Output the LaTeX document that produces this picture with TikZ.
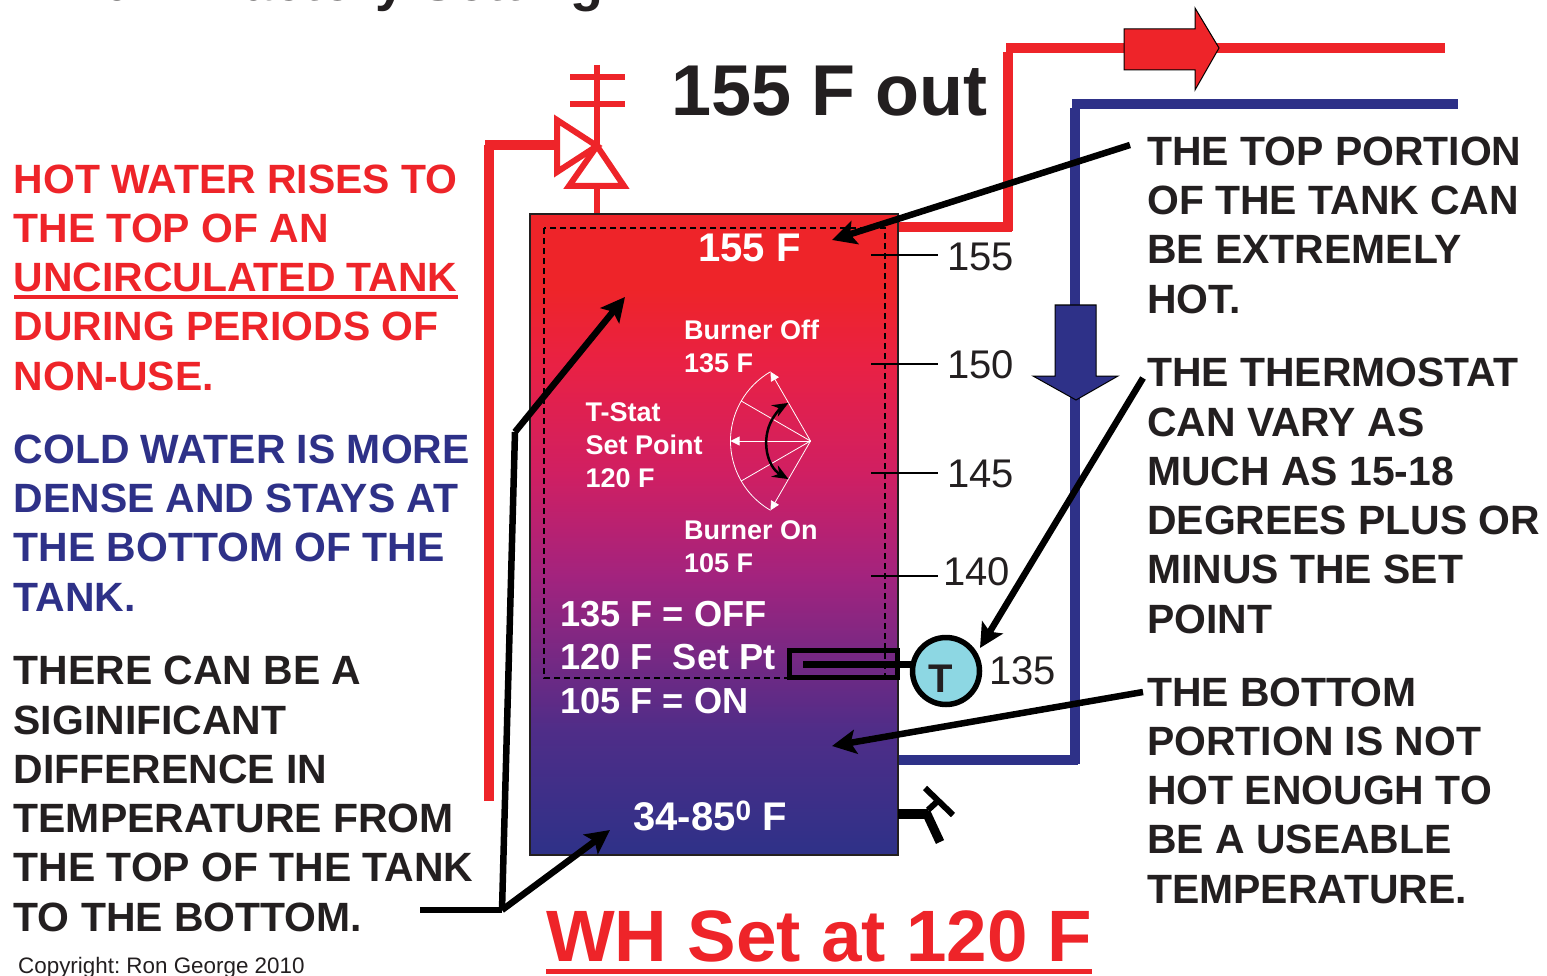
\documentclass[tikz,border=0pt]{standalone}
\usepackage{fontspec}
\usepackage{xcolor}
\setmainfont{Liberation Sans}
\usetikzlibrary{arrows.meta}
\definecolor{hotred}{RGB}{238,36,41}
\definecolor{coldblue}{RGB}{46,49,136}
\definecolor{inkblack}{RGB}{35,31,32}
\definecolor{stataqua}{RGB}{141,215,227}
\definecolor{fadea}{RGB}{79,45,136}
\definecolor{fadeb}{RGB}{122,40,131}
\definecolor{fadec}{RGB}{163,35,126}
\definecolor{faded}{RGB}{208,31,98}
\definecolor{fadee}{RGB}{233,33,68}
% tank fade: the path covers 25bp (bottom) to 75bp (top)
\pgfdeclareverticalshading{tankfade}{100bp}{
  color(0bp)=(coldblue); color(25bp)=(coldblue);
  color(34.75bp)=(fadea);
  color(41bp)=(fadeb);
  color(46.8bp)=(fadec);
  color(54.8bp)=(faded);
  color(63.3bp)=(fadee);
  color(69.1bp)=(hotred); color(100bp)=(hotred)}
\tikzset{
  note/.style={font=\bfseries\fontsize{40.9}{49.25}\selectfont,text=inkblack,align=left,anchor=base west,inner sep=0pt},
  tanktxt/.style={font=\bfseries\fontsize{27}{32.7}\selectfont,text=white,align=left,anchor=base west,inner sep=0pt},
  tankbig/.style={font=\bfseries\fontsize{36.2}{43.5}\selectfont,text=white,align=left,anchor=base west,inner sep=0pt},
  tempnum/.style={font=\fontsize{40}{48}\selectfont,text=inkblack,anchor=base west,inner sep=0pt},
  hotpipe/.style={draw=hotred,line width=10pt},
  coldpipe/.style={draw=coldblue,line width=10pt},
  pointer/.style={draw=black,line width=6.5pt,-{Stealth[length=24pt,width=24pt,inset=5pt]}}
}
\begin{document}
\frenchspacing
\begin{tikzpicture}[x=1pt,y=-1pt]
  \useasboundingbox (0,0) rectangle (1547,976);
  % named points: pipes, gauge and pointer ends
  \coordinate (gauge) at (810.5,441);
  \coordinate (fork) at (502,910);
  \coordinate (bend) at (515,432);
  % headings, the first cut by the page
  \node[note,font=\bfseries\fontsize{54}{60}\selectfont] (heading) at (42,1) {120 F\ \ Factory Setting};
  \node[note,font=\bfseries\fontsize{72}{80}\selectfont] (outtemp) at (671,116) {155 F out};
  % hot side
  \draw[hotpipe] (489,801) -- (489,145);
  \draw[hotpipe] (485,145) -- (557,145);
  \draw[hotpipe] (898,227) -- (1012,227);
  \draw[hotpipe] (1008,231) -- (1008,52);
  \draw[hotpipe] (1006,48) -- (1445,48);
  % cold side
  \draw[coldpipe] (898,760) -- (1078,760);
  \draw[coldpipe] (1075,764) -- (1075,108);
  \draw[coldpipe] (1072,104) -- (1458,104);
  % relief valve
  \draw[draw=hotred,line width=6pt] (597,65) -- (597,146);
  \draw[draw=hotred,line width=6pt] (570,77) -- (625,77) (570,104) -- (625,104);
  \draw[draw=hotred,line width=6pt] (597,186) -- (597,214);
  \draw[draw=hotred,line width=6pt,miter limit=3] (597,146) -- (557,120) -- (557,172) -- cycle;
  \draw[draw=hotred,line width=6pt,miter limit=3] (597,146) -- (569,186) -- (624,186) -- cycle;
  % flow arrows
  \draw[fill=hotred,draw=black,line width=1pt] (1124,29) -- (1195,29) -- (1195,8) -- (1219,48) -- (1195,90) -- (1195,70) -- (1124,70) -- cycle;
  \draw[fill=coldblue,draw=black,line width=1pt] (1055,305) -- (1096,305) -- (1096,376) -- (1118,376) -- (1076,400) -- (1033,376) -- (1055,376) -- cycle;
  % tank
  \shadedraw[shading=tankfade,draw=inkblack,line width=2pt] (530,214) rectangle (898,855);
  \draw[black,line width=1.5pt,dash pattern=on 6pt off 4pt] (544,228) rectangle (885,678);
  % temperature scale
  \foreach \y/\lbl/\tx/\ty/\nm in {255/155/947/271/a,364/150/947/378/b,473/145/947/487/c,576/140/943/585/d} {
    \draw[black,line width=1.5pt] (871,\y) -- (938,\y);
    \node[tempnum] (scale\nm) at (\tx,\ty) {\lbl};
  }
  \node[tempnum] (scalee) at (989,684) {135};
  % gauge
  \draw[white,line width=0.8pt] (gauge) ++(120:80) arc[start angle=120,end angle=240,radius=80];
  \foreach \a in {150,210}
    \draw[white,line width=0.8pt] (gauge) -- ++(\a:80);
  \foreach \a in {120,180,240}
    \draw[white,line width=0.8pt,-{Triangle[length=9pt,width=9pt]}] (gauge) -- ++(\a:80);
  \draw[black,line width=2.5pt,{Stealth[length=16pt,width=13pt]}-{Stealth[length=16pt,width=13pt]}] (gauge) ++(120:44) arc[start angle=120,end angle=240,radius=44];
  % text in the tank
  \node[tankbig,font=\bfseries\fontsize{40}{44}\selectfont] (toptemp) at (698,262) {155 F};
  \node[tanktxt] (burneroff) at (684,372) {Burner Off\\135 F};
  \node[tanktxt] (setpoint) at (585.5,487) {T-Stat\\Set Point\\120 F};
  \node[tanktxt] (burneron) at (684,572) {Burner On\\105 F};
  \node[tankbig] (ratings) at (560,713) {135 F = OFF\\120 F\ \ Set Pt\\105 F = ON};
  \node[tankbig,font=\bfseries\fontsize{40}{44}\selectfont] (bottemp) at (633,830) {34-85\textsuperscript{0} F};
  % thermostat
  \draw[black,line width=5pt] (789.5,650.5) rectangle (897.5,677.5);
  \draw[black,line width=7pt] (803,664) -- (912,664);
  \node[circle,draw=black,line width=5.5pt,fill=stataqua,minimum size=67pt,inner sep=0pt] (tstat) at (946,671) {};
  \node[font=\bfseries\fontsize{40}{44}\selectfont,text=inkblack,anchor=base,inner sep=0pt] (tstatT) at (940.5,692) {T};
  % drain
  \draw[black,line width=10pt] (898,814) -- (928,814);
  \draw[black,line width=9pt] (926,812) -- (940,842);
  \draw[black,line width=6pt] (928,810) -- (939,800);
  \draw[black,line width=6pt] (925,788) -- (953,815);
  % side notes
  \node[note,text=hotred] (hotnote) at (13.5,390) {HOT WATER RISES TO\\THE TOP OF AN\\UNCIRCULATED TANK\\DURING PERIODS OF\\NON-USE.};
  \draw[hotred,line width=4pt] (14,297) -- (458,297);
  \node[note,text=coldblue] (coldnote) at (13.5,611) {COLD WATER IS MORE\\DENSE AND STAYS AT\\THE BOTTOM OF THE\\TANK.};
  \node[note] (diffnote) at (13.5,931) {THERE CAN BE A\\SIGINIFICANT\\DIFFERENCE IN\\TEMPERATURE FROM\\THE TOP OF THE TANK\\TO THE BOTTOM.};
  \node[note] (topnote) at (1147,313) {THE TOP PORTION\\OF THE TANK CAN\\BE EXTREMELY\\HOT.};
  \node[note] (statnote) at (1147,633) {THE THERMOSTAT\\CAN VARY AS\\MUCH AS 15-18\\DEGREES PLUS OR\\MINUS THE SET\\POINT};
  \node[note] (botnote) at (1147,903) {THE BOTTOM\\PORTION IS NOT\\HOT ENOUGH TO\\BE A USEABLE\\TEMPERATURE.};
  % pointers
  \draw[pointer] (1130,145) -- (832,240);
  \draw[pointer] (1143,378) -- (980,648);
  \draw[pointer] (1143,692) -- (832,746);
  \draw[black,line width=6.5pt] (420,910) -- (fork);
  \draw[pointer] (fork) -- (610,830);
  \draw[black,line width=6.5pt] (fork) -- (bend);
  \draw[pointer] (bend) -- (625,297);
  % footer
  \node[note,text=hotred,font=\bfseries\fontsize{72.8}{80}\selectfont] (wh) at (546,961) {WH Set at 120 F};
  \draw[hotred,line width=5pt] (546,971) -- (1092,971);
  \node[note,font=\fontsize{22.4}{25}\selectfont] (copy) at (18,973) {Copyright: Ron George 2010};
\end{tikzpicture}
\end{document}
